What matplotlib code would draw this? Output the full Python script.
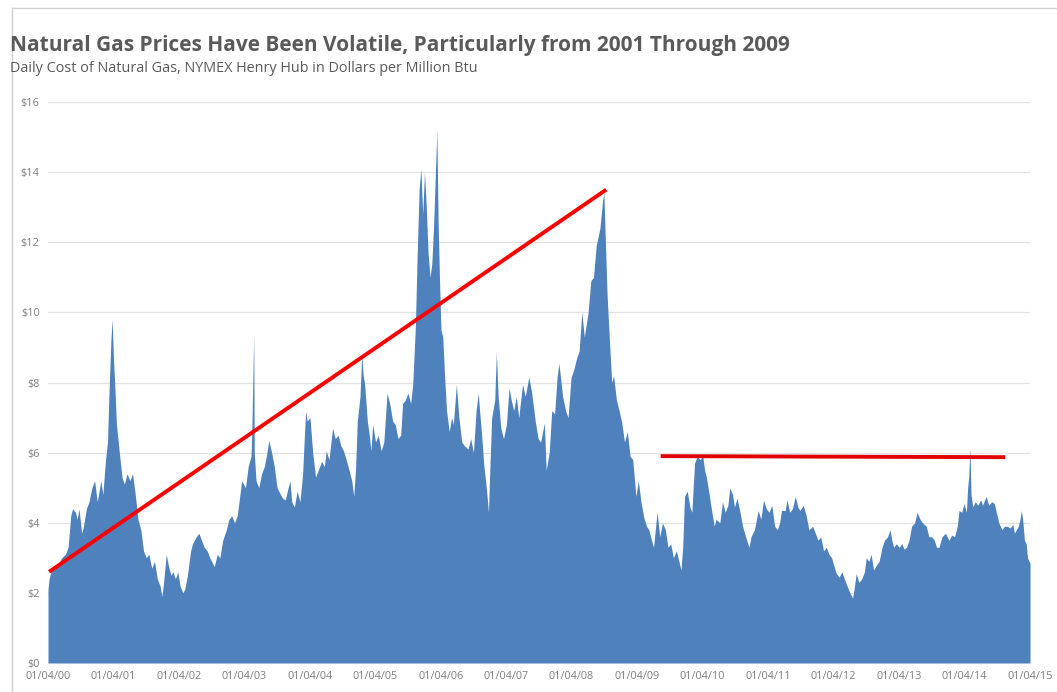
import matplotlib
matplotlib.use("Agg")
import matplotlib.pyplot as plt
import numpy as np
import pandas as pd

# Henry Hub spot (date, $/MMBtu)
dates = [
    "2000-01-04", "2000-01-10", "2000-01-20", "2000-02-10", "2000-03-01", "2000-03-20", "2000-04-10", "2000-04-25",
    "2000-05-10", "2000-05-20", "2000-06-05", "2000-06-15", "2000-06-25", "2000-07-10", "2000-07-20", "2000-08-05",
    "2000-08-20", "2000-09-05", "2000-09-20", "2000-10-05", "2000-10-15", "2000-10-25", "2000-11-05", "2000-11-20",
    "2000-12-01", "2000-12-10", "2000-12-20", "2000-12-27", "2001-01-04", "2001-01-10", "2001-01-20", "2001-02-05",
    "2001-02-20", "2001-03-05", "2001-03-20", "2001-04-05", "2001-04-20", "2001-05-05", "2001-05-20", "2001-06-05",
    "2001-06-20", "2001-07-05", "2001-07-20", "2001-08-05", "2001-08-20", "2001-09-05", "2001-09-20", "2001-10-01",
    "2001-10-10", "2001-10-25", "2001-11-05", "2001-11-20", "2001-12-01", "2001-12-15", "2001-12-28",
    "2002-01-10", "2002-01-25", "2002-02-05", "2002-02-20", "2002-03-10", "2002-03-20", "2002-04-10", "2002-04-25",
    "2002-05-10", "2002-05-25", "2002-06-10", "2002-06-25", "2002-07-05", "2002-07-20", "2002-08-05", "2002-08-20",
    "2002-09-05", "2002-09-25", "2002-10-10", "2002-10-25", "2002-11-10", "2002-11-25", "2002-12-10", "2002-12-20",
    "2003-01-10", "2003-01-25", "2003-02-10", "2003-02-14", "2003-02-25", "2003-02-28", "2003-03-10", "2003-03-25",
    "2003-04-10", "2003-04-25", "2003-05-10", "2003-05-20", "2003-06-05", "2003-06-20", "2003-07-05", "2003-07-20",
    "2003-08-05", "2003-08-20", "2003-09-05", "2003-09-15", "2003-09-25", "2003-10-10", "2003-10-25", "2003-11-10",
    "2003-11-25", "2003-12-05", "2003-12-12", "2003-12-20",
    "2004-01-05", "2004-01-20", "2004-02-05", "2004-02-20", "2004-03-10", "2004-03-25", "2004-04-05", "2004-04-20",
    "2004-05-10", "2004-05-25", "2004-06-10", "2004-06-25", "2004-07-10", "2004-07-25", "2004-08-10", "2004-08-25",
    "2004-09-05", "2004-09-15", "2004-09-25", "2004-10-10", "2004-10-20", "2004-10-28", "2004-11-05", "2004-11-20",
    "2004-12-01", "2004-12-10", "2004-12-20",
    "2005-01-05", "2005-01-20", "2005-02-05", "2005-02-20", "2005-03-10", "2005-03-25", "2005-04-10", "2005-04-25",
    "2005-05-10", "2005-05-25", "2005-06-05", "2005-06-20", "2005-07-05", "2005-07-20", "2005-08-01", "2005-08-15",
    "2005-08-25", "2005-09-05", "2005-09-15", "2005-09-25", "2005-10-05", "2005-10-15", "2005-10-25", "2005-11-05",
    "2005-11-15", "2005-11-25", "2005-12-05", "2005-12-13", "2005-12-20", "2005-12-28",
    "2006-01-05", "2006-01-15", "2006-01-25", "2006-02-05", "2006-02-20", "2006-03-05", "2006-03-15", "2006-04-01",
    "2006-04-15", "2006-05-01", "2006-05-15", "2006-06-05", "2006-06-20", "2006-07-05", "2006-07-20", "2006-08-01",
    "2006-08-10", "2006-08-20", "2006-09-01", "2006-09-15", "2006-09-27", "2006-10-05", "2006-10-15", "2006-11-01",
    "2006-11-10", "2006-11-20", "2006-12-05", "2006-12-20",
    "2007-01-05", "2007-01-20", "2007-02-01", "2007-02-15", "2007-03-01", "2007-03-15", "2007-04-05", "2007-04-20",
    "2007-05-10", "2007-05-25", "2007-06-15", "2007-07-01", "2007-07-15", "2007-08-05", "2007-08-15", "2007-09-01",
    "2007-09-15", "2007-10-01", "2007-10-15", "2007-10-25", "2007-11-15", "2007-12-01", "2007-12-15",
    "2008-01-01", "2008-01-15", "2008-02-01", "2008-02-15", "2008-03-01", "2008-03-15", "2008-04-05", "2008-04-20",
    "2008-05-05", "2008-05-20", "2008-06-10", "2008-06-25", "2008-07-02", "2008-07-10", "2008-07-20", "2008-08-01",
    "2008-08-15", "2008-08-25", "2008-09-10", "2008-09-25", "2008-10-10", "2008-10-25", "2008-11-10", "2008-11-25",
    "2008-12-10", "2008-12-28",
    "2009-01-10", "2009-01-25", "2009-02-10", "2009-02-25", "2009-03-10", "2009-03-25", "2009-04-05", "2009-04-25",
    "2009-05-10", "2009-05-25", "2009-06-10", "2009-06-25", "2009-07-10", "2009-07-25", "2009-08-10", "2009-08-25",
    "2009-09-05", "2009-09-15", "2009-09-25", "2009-10-10", "2009-10-25", "2009-11-05", "2009-11-20", "2009-12-05",
    "2009-12-20",
    "2010-01-05", "2010-01-15", "2010-01-25", "2010-02-10", "2010-02-20", "2010-03-10", "2010-03-20", "2010-04-10",
    "2010-04-25", "2010-05-10", "2010-05-25", "2010-06-05", "2010-06-20", "2010-07-01", "2010-07-15", "2010-08-01",
    "2010-08-15", "2010-09-01", "2010-09-20", "2010-10-01", "2010-10-20", "2010-11-10", "2010-11-25", "2010-12-10",
    "2010-12-25",
    "2011-01-10", "2011-01-25", "2011-02-10", "2011-02-25", "2011-03-10", "2011-03-20", "2011-04-10", "2011-04-20",
    "2011-05-05", "2011-05-20", "2011-06-05", "2011-06-20", "2011-07-01", "2011-07-20", "2011-08-05", "2011-08-20",
    "2011-09-10", "2011-09-25", "2011-10-10", "2011-10-25", "2011-11-10", "2011-11-25", "2011-12-10", "2011-12-25",
    "2012-01-05", "2012-01-20", "2012-02-05", "2012-02-20", "2012-03-05", "2012-03-20", "2012-04-05", "2012-04-20",
    "2012-05-01", "2012-05-10", "2012-05-25", "2012-06-10", "2012-06-25", "2012-07-05", "2012-07-20", "2012-08-01",
    "2012-08-15", "2012-09-01", "2012-09-15", "2012-10-01", "2012-10-15", "2012-11-01", "2012-11-15", "2012-11-25",
    "2012-12-05", "2012-12-20",
    "2013-01-05", "2013-01-20", "2013-02-01", "2013-02-15", "2013-03-01", "2013-03-15", "2013-04-01", "2013-04-15",
    "2013-05-01", "2013-05-15", "2013-06-05", "2013-06-20", "2013-07-05", "2013-07-20", "2013-08-01", "2013-08-15",
    "2013-09-01", "2013-09-20", "2013-10-10", "2013-10-25", "2013-11-10", "2013-11-25", "2013-12-05", "2013-12-20",
    "2014-01-01", "2014-01-15", "2014-01-22", "2014-01-28", "2014-02-04", "2014-02-10", "2014-02-20", "2014-03-05",
    "2014-03-20", "2014-04-05", "2014-04-15", "2014-05-05", "2014-05-20", "2014-06-05", "2014-06-20", "2014-07-01",
    "2014-07-15", "2014-08-01", "2014-08-15", "2014-09-01", "2014-09-15", "2014-10-01", "2014-10-10", "2014-10-20",
    "2014-11-01", "2014-11-10", "2014-11-18", "2014-11-25", "2014-12-05", "2014-12-15", "2014-12-22", "2015-01-05",
]
prices = [
    2.1, 2.4, 2.6, 2.7, 2.8, 3.0, 3.1, 3.3,
    4.2, 4.4, 4.3, 4.1, 4.4, 3.7, 3.9, 4.4,
    4.6, 5.0, 5.2, 4.6, 4.9, 5.2, 4.8, 5.8,
    6.3, 7.8, 9.2, 9.8, 8.6, 8.0, 6.8, 6.0,
    5.3, 5.1, 5.4, 5.2, 5.4, 4.8, 4.1, 3.8,
    3.2, 3.0, 3.1, 2.7, 2.9, 2.4, 2.2, 1.9,
    2.3, 3.1, 2.8, 2.5, 2.6, 2.4, 2.6,
    2.2, 2.0, 2.1, 2.5, 3.2, 3.4, 3.6, 3.7,
    3.5, 3.3, 3.2, 3.0, 2.9, 2.75, 3.1, 3.0,
    3.5, 3.8, 4.1, 4.2, 4.0, 4.2, 4.8, 5.2,
    5.0, 5.6, 5.9, 6.5, 9.4, 6.0, 5.2, 5.0,
    5.4, 5.6, 6.0, 6.35, 6.0, 5.6, 5.0, 4.85,
    4.7, 4.65, 5.0, 5.2, 4.6, 4.45, 4.9, 4.6,
    5.4, 6.5, 7.2, 6.9,
    7.0, 6.0, 5.3, 5.5, 5.75, 5.6, 6.05, 5.8,
    6.7, 6.4, 6.5, 6.2, 6.05, 5.8, 5.5, 5.2,
    4.75, 5.5, 6.9, 7.6, 8.8, 8.2, 7.95, 6.9,
    6.5, 6.05, 6.8,
    6.3, 6.5, 6.05, 6.3, 7.7, 7.4, 6.9, 6.8,
    6.4, 6.5, 7.4, 7.5, 7.7, 7.4, 8.0, 9.6,
    11.6, 13.5, 14.1, 12.8, 14.0, 13.0, 11.7, 11.0,
    11.4, 12.5, 14.0, 15.2, 12.6, 10.9,
    9.5, 9.3, 8.2, 7.2, 6.6, 7.0, 6.8, 7.95,
    7.0, 6.3, 6.2, 6.1, 6.4, 6.0, 7.2, 7.7,
    7.1, 6.5, 5.65, 5.0, 4.3, 5.6, 7.0, 7.5,
    8.85, 7.6, 6.7, 6.4,
    6.8, 7.85, 7.5, 7.2, 7.6, 7.0, 7.95, 7.6,
    8.15, 7.75, 6.9, 6.4, 6.3, 6.85, 5.5, 6.0,
    7.2, 7.1, 8.15, 8.55, 7.6, 7.2, 7.0,
    8.15, 8.35, 8.7, 8.9, 10.0, 9.3, 10.0, 10.9,
    11.0, 11.9, 12.4, 13.2, 13.4, 12.1, 10.5, 9.3,
    8.0, 8.2, 7.5, 7.2, 6.85, 6.3, 6.6, 5.9,
    5.8, 4.75,
    5.2, 4.6, 4.15, 3.9, 3.8, 3.5, 3.3, 4.3,
    3.6, 4.0, 3.8, 3.3, 3.4, 3.0, 3.2, 2.9,
    2.65, 3.3, 4.75, 4.9, 4.45, 4.3, 5.7, 5.9,
    5.8,
    5.9, 5.5, 5.3, 4.8, 4.45, 3.9, 4.1, 4.0,
    4.6, 4.3, 4.5, 5.0, 4.8, 4.45, 4.7, 4.3,
    3.9, 3.6, 3.3, 3.6, 3.8, 4.35, 4.1, 4.65,
    4.4,
    4.3, 4.5, 3.9, 3.8, 4.0, 4.35, 4.35, 4.65,
    4.3, 4.4, 4.75, 4.45, 4.35, 4.5, 4.2, 3.8,
    3.9, 3.7, 3.5, 3.6, 3.2, 3.3, 3.1, 3.0,
    2.8, 2.55, 2.45, 2.6, 2.4, 2.2, 2.0, 1.85,
    2.2, 2.55, 2.3, 2.4, 2.6, 3.0, 2.9, 3.1,
    2.65, 2.8, 2.9, 3.3, 3.5, 3.6, 3.8, 3.5,
    3.3, 3.4,
    3.3, 3.4, 3.25, 3.3, 3.5, 3.9, 4.0, 4.3,
    4.1, 4.0, 3.9, 3.6, 3.6, 3.5, 3.3, 3.3,
    3.6, 3.7, 3.5, 3.65, 3.6, 3.9, 4.35, 4.3,
    4.55, 4.3, 5.0, 5.3, 6.15, 4.8, 4.45, 4.6,
    4.5, 4.65, 4.5, 4.75, 4.5, 4.6, 4.55, 4.3,
    4.0, 3.8, 3.9, 3.9, 3.85, 3.95, 3.7, 3.8,
    3.9, 4.1, 4.35, 4.1, 3.5, 3.4, 3.0, 2.85,
]

# red trend lines drawn on the chart
trend_up_dates = ["2000-01-10", "2008-07-15"]
trend_up_vals = [2.6, 13.5]
trend_flat_dates = ["2009-05-15", "2014-08-20"]
trend_flat_vals = [5.9, 5.87]

ytick_vals = [0, 2, 4, 6, 8, 10, 12, 14, 16]
xtick_years = list(range(2000, 2016))

x = pd.to_datetime(dates)
y = np.array(prices)

fig = plt.figure(figsize=(10.57, 6.92), dpi=100)
ax = fig.add_axes([48 / 1057, 29 / 692, 982 / 1057, 561 / 692])

ax.fill_between(x, 0, y, color="#4f81bd", lw=0, zorder=2)
ax.plot(pd.to_datetime(trend_up_dates), trend_up_vals, color="#ff0000", lw=2.8,
        solid_capstyle="butt", zorder=3)
ax.plot(pd.to_datetime(trend_flat_dates), trend_flat_vals, color="#e00000", lw=2.8,
        solid_capstyle="butt", zorder=3)

ax.set_ylim(0, 16)
ax.set_xlim(x[0], x[-1])
ax.set_yticks(ytick_vals)
ax.set_yticklabels(["${}".format(v) for v in ytick_vals])
ticks = [pd.Timestamp(yr, 1, 4) for yr in xtick_years]
ax.set_xticks(ticks)
ax.set_xticklabels([t.strftime("%m/%d/%y") for t in ticks])

ax.grid(axis="y", color="#e3e3e3", lw=0.9, zorder=0)
ax.set_axisbelow(True)
for s in ax.spines.values():
    s.set_visible(False)
ax.tick_params(length=0, labelsize=7.8, labelcolor="#7f7f7f", pad=6)
for lab in ax.get_yticklabels() + ax.get_xticklabels():
    lab.set_family("Open Sans")

fig.text(10 / 1057, 1 - 45 / 692, "Natural Gas Prices Have Been Volatile, Particularly from 2001 Through 2009",
         fontsize=15.0, fontweight="bold", color="#5a5a5a", family="Open Sans", va="center")
fig.text(10 / 1057, 1 - 69 / 692, "Daily Cost of Natural Gas, NYMEX Henry Hub in Dollars per Million Btu",
         fontsize=10.4, color="#595959", family="Open Sans", va="center")

# light frame of the chart object
fig.add_artist(plt.Line2D([12 / 1057, 12 / 1057], [0, 1 - 8 / 692], color="#d0d0d0", lw=1))
fig.add_artist(plt.Line2D([12 / 1057, 1], [1 - 8 / 692, 1 - 8 / 692], color="#d0d0d0", lw=1))

fig.savefig("out.png", dpi=100)
